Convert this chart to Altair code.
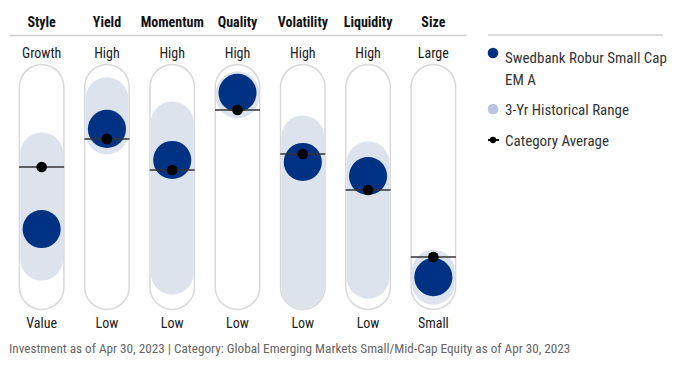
import altair as alt
import pandas as pd

factors = ["Style", "Yield", "Momentum", "Quality", "Volatility", "Liquidity", "Size"]
high_labels = ["Growth", "High", "High", "High", "High", "High", "Large"]
low_labels = ["Value", "Low", "Low", "Low", "Low", "Low", "Small"]
fund = [29, 79, 63.5, 97, 62.5, 55.5, 5]
cat_avg = [60, 74, 58.5, 88.5, 66.5, 48.5, 15]
range_low = [14, 77, 7, 95, 0, 5, 2]
range_high = [66.5, 94, 82, 97, 75, 62, 8]
scale_low = [0] * 7
scale_high = [100] * 7

fund_name = "Swedbank Robur Small Cap"
fund_name2 = "EM A"
range_name = "3-Yr Historical Range"
avg_name = "Category Average"
footnote = "Investment as of Apr 30, 2023 | Category: Global Emerging Markets Small/Mid-Cap Equity as of Apr 30, 2023"

FONT = "Liberation Sans Narrow, Roboto Condensed, Roboto, sans-serif"
NAVY = "#003283"
LIGHT = "#dce3ed"

df = pd.DataFrame({
    "factor": factors, "high": high_labels, "low": low_labels,
    "fund": fund, "avg": cat_avg, "rlo": range_low, "rhi": range_high,
    "slo": scale_low, "shi": scale_high,
})

yscale = alt.Scale(domain=[-24.88, 125.88], nice=False, zero=False)
base = alt.Chart(df).encode(
    x=alt.X("factor:N", sort=factors,
            scale=alt.Scale(paddingInner=0, paddingOuter=0),
            axis=alt.Axis(orient="top", title=None, ticks=False, labelAngle=0,
                          labelFontWeight="bold", labelFontSize=14, labelFont=FONT,
                          labelColor="#111", labelPadding=6, domainColor="#cfcfcf",
                          domainWidth=1.5))
)

outline = base.mark_rule(strokeWidth=46, strokeCap="round", color="#d9d9d9").encode(
    y=alt.Y("slo:Q", scale=yscale, axis=None), y2="shi:Q")
inner = base.mark_rule(strokeWidth=43, strokeCap="round", color="white").encode(
    y=alt.Y("slo:Q", scale=yscale, axis=None), y2="shi:Q")
rng = base.mark_rule(strokeWidth=43, strokeCap="round", color=LIGHT).encode(
    y=alt.Y("rlo:Q", scale=yscale, axis=None), y2="rhi:Q")
fund_pt = base.mark_circle(size=1452, color=NAVY, opacity=1).encode(
    y=alt.Y("fund:Q", scale=yscale, axis=None))
avg_tick = base.mark_tick(size=45, thickness=1.5, color="#333", opacity=1).encode(
    y=alt.Y("avg:Q", scale=yscale, axis=None))
avg_dot = base.mark_circle(size=113, color="black", opacity=1).encode(
    y=alt.Y("avg:Q", scale=yscale, axis=None))
top_txt = base.mark_text(fontSize=14, font=FONT, color="#222").encode(
    text="high:N", y=alt.value(19))
bot_txt = base.mark_text(fontSize=14, font=FONT, color="#222").encode(
    text="low:N", y=alt.value(289))

leg = alt.Chart(pd.DataFrame({"name": [fund_name]}))
LEGFS = 15
leg_line = leg.mark_rule(color="#cfcfcf", strokeWidth=1.5).encode(
    x=alt.value(479), x2=alt.value(654), y=alt.value(0))
leg_fund = leg.mark_circle(size=113, color=NAVY, opacity=1).encode(
    x=alt.value(484), y=alt.value(18))
leg_fund_t1 = leg.mark_text(align="left", baseline="middle", fontSize=LEGFS, font=FONT, color="#333").encode(
    x=alt.value(496), y=alt.value(23), text=alt.value(fund_name))
leg_fund_t2 = leg.mark_text(align="left", baseline="middle", fontSize=LEGFS, font=FONT, color="#333").encode(
    x=alt.value(496), y=alt.value(45), text=alt.value(fund_name2))
leg_rng = leg.mark_circle(size=113, color="#b7c6dc", opacity=1).encode(
    x=alt.value(484), y=alt.value(74))
leg_rng_t = leg.mark_text(align="left", baseline="middle", fontSize=LEGFS, font=FONT, color="#333").encode(
    x=alt.value(496), y=alt.value(75), text=alt.value(range_name))
leg_avg_l = leg.mark_rule(color="#111", strokeWidth=2).encode(
    x=alt.value(479), x2=alt.value(490), y=alt.value(105))
leg_avg_d = leg.mark_circle(size=40, color="black", opacity=1).encode(
    x=alt.value(484), y=alt.value(105))
leg_avg_t = leg.mark_text(align="left", baseline="middle", fontSize=LEGFS, font=FONT, color="#333").encode(
    x=alt.value(496), y=alt.value(106), text=alt.value(avg_name))

chart = alt.layer(
    outline, inner, rng, fund_pt, avg_tick, avg_dot, top_txt, bot_txt,
    leg_line, leg_fund, leg_fund_t1, leg_fund_t2, leg_rng, leg_rng_t,
    leg_avg_l, leg_avg_d, leg_avg_t,
).properties(
    width=457, height=302,
    padding={"left": 1, "top": 7, "right": 0, "bottom": 0},
    title=alt.TitleParams(text=footnote, orient="bottom", anchor="start", fontSize=13.2,
                          fontWeight="normal", color="#666", font=FONT, offset=6),
).configure_view(stroke=None)

chart.save("out.html", embed_options={"renderer": "svg", "actions": False})
